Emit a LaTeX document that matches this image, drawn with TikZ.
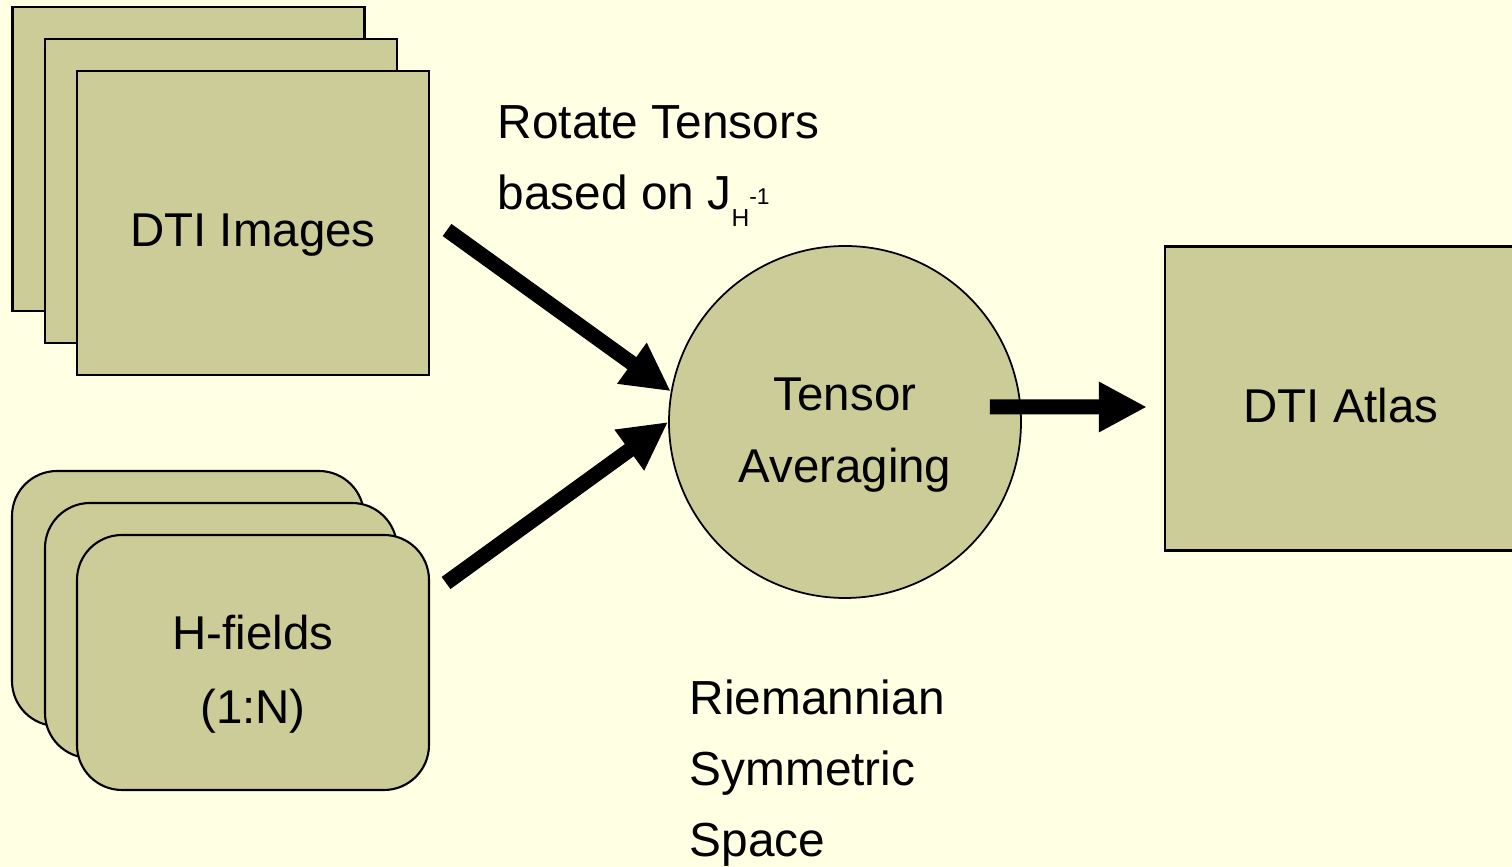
\documentclass[tikz,border=0pt]{standalone}
\usepackage{fontspec}
\setmainfont{Liberation Sans}
\usetikzlibrary{arrows.meta, positioning, calc}
\definecolor{paper}{RGB}{255,255,228}
\definecolor{khaki}{RGB}{204,204,153}
\tikzset{
    imgbox/.style={rectangle, draw, fill=khaki, line width=0.6pt,
                   minimum width=3.52cm, minimum height=3.04cm, align=center,
                   text height=13.4pt, text depth=0pt,
                   font=\fontsize{13.5}{20.5}\selectfont},
    fieldbox/.style={rectangle, draw, fill=khaki, line width=0.6pt, rounded corners=0.45cm,
                     minimum width=3.52cm, minimum height=2.55cm, align=center,
                     text height=34.6pt, text depth=0pt,
                     font=\fontsize{13.5}{21}\selectfont},
    avgnode/.style={circle, draw, fill=khaki, line width=0.5pt, minimum size=3.52cm,
                    inner sep=0pt, align=center, text height=34.4pt, text depth=0pt,
                    font=\fontsize{13.5}{20.5}\selectfont},
    bigarrow/.style={-{Triangle[length=4.8mm, width=4.7mm]}, line width=1.5mm},
    lbl/.style={align=left, inner sep=0pt, anchor=west, font=\fontsize{13.6}{20.3}\selectfont},
}
\newcommand{\jacinv}{J\raisebox{-0.17cm}{\fontsize{7}{7}\selectfont H}%
    \raisebox{0.05cm}{\fontsize{6.5}{6.5}\selectfont -1}}

\begin{document}
\begin{tikzpicture}

    % Background
    \fill[paper] (0,0) rectangle (15.12,-8.67);
    \useasboundingbox (0,0) rectangle (15.12,-8.67);

    % DTI image stack
    \node[imgbox] at (1.885,-1.59) (dti1) {};
    \node[imgbox] at (2.21,-1.91)  (dti2) {};
    \node[imgbox] at (2.53,-2.23)  (dti)  {DTI Images};

    % H-field stack
    \node[fieldbox] at (1.88,-5.985) (hf1) {};
    \node[fieldbox] at (2.21,-6.305) (hf2) {};
    \node[fieldbox] at (2.53,-6.625) (hf)  {H-fields\\(1:N)};

    % Averaging and atlas
    \node[avgnode] at (8.45,-4.22) (avg) {Tensor\\Averaging};
    \node[imgbox] at (13.41,-3.985) (atlas) {DTI Atlas};

    % Labels
    \node[lbl] at (4.97,-1.66) (rotlbl) {Rotate Tensors\\based on \jacinv};
    \node[lbl] at (6.89,-7.73) (riemlbl) {Riemannian\\Symmetric\\Space};

    % Arrows
    \draw[bigarrow] ([shift={(0.17,-0.07)}]dti.east) -- (avg.170);
    \draw[bigarrow] ([shift={(0.16,0.795)}]hf.east) -- (avg.west);
    \draw[bigarrow] ([shift={(-0.32,0.15)}]avg.east) -- ([shift={(-0.17,-0.085)}]atlas.west);

\end{tikzpicture}
\end{document}
